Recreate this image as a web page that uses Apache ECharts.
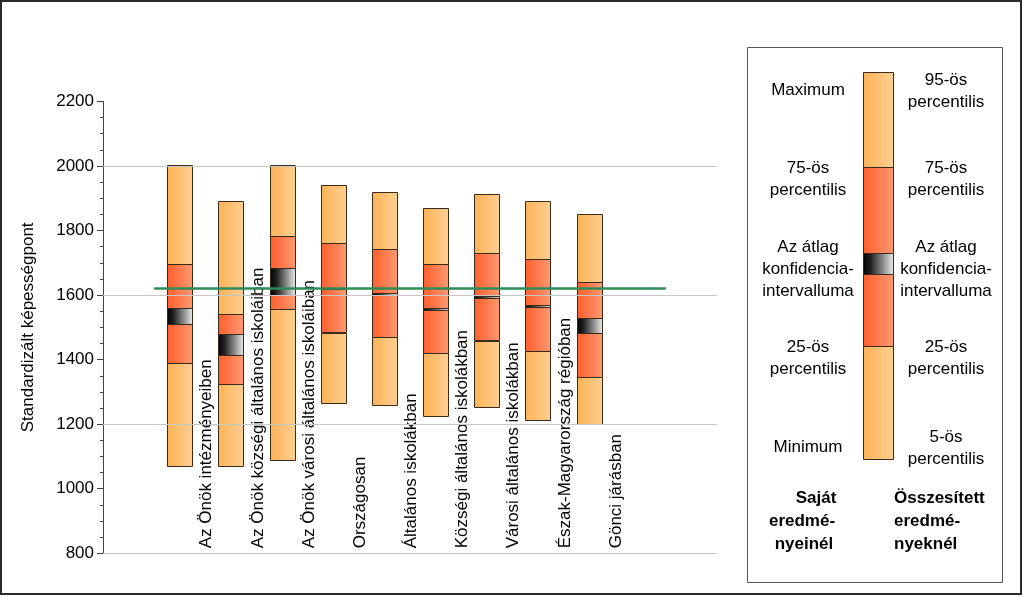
<!DOCTYPE html>
<html>
<head>
<meta charset="utf-8">
<script src="https://cdn.jsdelivr.net/npm/echarts@6/dist/echarts.min.js"></script>
<style>html,body{margin:0;padding:0;background:#fff}#chart{width:1024px;height:597px}</style>
</head>
<body>
<div id="chart"></div>
<script>
// ---- data ----
const categories = [
  "Az Önök intézményeiben",
  "Az Önök községi általános iskoláiban",
  "Az Önök városi általános iskoláiban",
  "Országosan",
  "Általános iskolákban",
  "Községi általános iskolákban",
  "Városi általános iskolákban",
  "Észak-Magyarország régióban",
  "Gönci járásban"
];
const minVals  = [1070, 1070, 1089, 1268, 1260, 1227, 1256, 1212, 1199];
const p25Vals  = [1390, 1325, 1557, 1484, 1470, 1421, 1459, 1426, 1346];
const ciLow    = [1510, 1415, 1601, 1618, 1601, 1555, 1591, 1563, 1484];
const ciHigh   = [1560, 1479, 1684, 1622, 1607, 1561, 1597, 1569, 1529];
const p75Vals  = [1697, 1541, 1783, 1761, 1742, 1696, 1730, 1711, 1640];
const maxVals  = [2003, 1892, 2003, 1940, 1920, 1871, 1912, 1892, 1852];
const nationalAvg = 1620;
const yTicks = [800, 1000, 1200, 1400, 1600, 1800, 2000, 2200];
const gridValues = [800, 1200, 1600, 2000];

const FONT = "'Liberation Sans', Arial, sans-serif";
const G = echarts.graphic;
const orangeGrad = () => new G.LinearGradient(0, 0, 1, 0, [{offset:0,color:'#fdb257'},{offset:1,color:'#ffd092'}]);
const redGrad = () => new G.LinearGradient(0, 0, 1, 0, [{offset:0,color:'#ff5e2c'},{offset:1,color:'#ff9a72'}]);
const ciGrad = () => new G.LinearGradient(0, 0, 1, 0, [{offset:0,color:'#000000'},{offset:0.25,color:'#222222'},{offset:1,color:'#eeeeee'}]);
const EDGE = '#3a2a1a';

const barData = categories.map((c, i) => [i + 1.5, minVals[i], p25Vals[i], ciLow[i], ciHigh[i], p75Vals[i], maxVals[i]]);
const labelData = categories.map((c, i) => [i + 1.5, yTicks[0]]);

const chart = echarts.init(document.getElementById('chart'));

// legend graphic
const LX = 863, LW = 30;
const legendSegs = [[72,167,'o'],[167,253,'r'],[253,274,'c'],[274,346,'r'],[346,459,'o']];
const graphics = [
  {type:'rect', shape:{x:1, y:1, width:1020, height:593}, style:{fill:null, stroke:'#2a2a2a', lineWidth:2}, silent:true},
  {type:'rect', shape:{x:747.5, y:47.5, width:255, height:535}, style:{fill:null, stroke:'#555', lineWidth:1}, silent:true}
];
legendSegs.forEach(s => {
  graphics.push({type:'rect', shape:{x:LX+0.5, y:s[0]+0.5, width:LW, height:s[1]-s[0]},
    style:{fill: s[2]==='o'?orangeGrad():(s[2]==='r'?redGrad():ciGrad()), stroke:EDGE, lineWidth:1}, silent:true});
});
function ltxt(t, x, y, bold, align) {
  graphics.push({type:'text', x:x, y:y, silent:true,
    style:{text:t, font:(bold?'bold ':'')+'17px '+FONT, fill:'#000', align:align||'center', verticalAlign:'middle'}});
}
const LC = 808, RC = 946;
ltxt('Maximum', LC, 90);
ltxt('75-ös', LC, 168); ltxt('percentilis', LC, 190);
ltxt('Az átlag', LC, 247); ltxt('konfidencia-', LC, 269); ltxt('intervalluma', LC, 291);
ltxt('25-ös', LC, 347); ltxt('percentilis', LC, 369);
ltxt('Minimum', LC, 447);
ltxt('Saját', LC+8, 498, true); ltxt('eredmé-', LC-6, 521, true); ltxt('nyeinél', LC-4, 544, true);
ltxt('95-ös', RC, 80); ltxt('percentilis', RC, 102);
ltxt('75-ös', RC, 168); ltxt('percentilis', RC, 190);
ltxt('Az átlag', RC, 247); ltxt('konfidencia-', RC, 269); ltxt('intervalluma', RC, 291);
ltxt('25-ös', RC, 347); ltxt('percentilis', RC, 369);
ltxt('5-ös', RC, 437); ltxt('percentilis', RC, 459);
ltxt('Összesített', 894, 498, true, 'left'); ltxt('eredmé-', 894, 521, true, 'left'); ltxt('nyeknél', 894, 544, true, 'left');

chart.setOption({
  animation: false,
  backgroundColor: '#fff',
  grid: {left: 103, right: 1024 - 717, top: 101.4, bottom: 597 - 553.3, containLabel: false},
  xAxis: {type: 'value', min: 0, max: 12, show: false},
  yAxis: {
    type: 'value', min: 800, max: 2200, interval: 200,
    name: 'Standardizált képességpont', nameLocation: 'middle', nameGap: 66,
    nameTextStyle: {fontSize: 17, fontFamily: FONT, color: '#000'},
    axisLine: {show: true, lineStyle: {color: '#444', width: 1}},
    axisTick: {show: true, length: 6, lineStyle: {color: '#444'}},
    minorTick: {show: true, splitNumber: 4, length: 3, lineStyle: {color: '#444'}},
    splitLine: {show: false},
    axisLabel: {fontSize: 17, fontFamily: FONT, color: '#000', margin: 9, formatter: v => String(v)}
  },
  graphic: graphics,
  series: [
    {
      type: 'custom', z: 1, silent: true,
      data: labelData,
      renderItem: function (params, api) {
        const p = api.coord([api.value(0), api.value(1)]);
        return {type: 'text', x: p[0] + 27, y: p[1] - 5, rotation: Math.PI / 2,
          style: {text: categories[params.dataIndex], font: '17px ' + FONT, fill: '#000', align: 'left', verticalAlign: 'middle'}};
      },
      markLine: {
        silent: true, symbol: 'none', label: {show: false},
        lineStyle: {color: '#c8c8c8', width: 1, type: 'solid'},
        data: gridValues.map(v => ({yAxis: v}))
      }
    },
    {
      type: 'custom', z: 2, silent: true,
      data: barData,
      renderItem: function (params, api) {
        const x = api.value(0);
        const bw = api.size([1, 0])[0] * 0.49;
        function rect(lo, hi, fill) {
          const a = api.coord([x, hi]), b = api.coord([x, lo]);
          return {type: 'rect', shape: {x: Math.round(a[0] - bw / 2) + 0.5, y: Math.round(a[1]) + 0.5, width: Math.round(bw), height: Math.max(1, Math.round(b[1] - a[1]))},
            style: {fill: fill, stroke: EDGE, lineWidth: 1}};
        }
        return {type: 'group', children: [
          rect(api.value(1), api.value(2), orangeGrad()),
          rect(api.value(2), api.value(5), redGrad()),
          rect(api.value(5), api.value(6), orangeGrad()),
          rect(api.value(3), api.value(4), ciGrad())
        ]};
      }
    },
    {
      type: 'line', z: 5, silent: true, symbol: 'none',
      lineStyle: {color: '#2e8b57', width: 2.5},
      data: [[1, nationalAvg], {value: [11, nationalAvg], label: {show: true, position: 'top', distance: 5,
        formatter: 'Országos\nátlag', fontSize: 17, lineHeight: 21, fontFamily: FONT, color: '#000', align: 'center'}}]
    }
  ]
});
</script>
</body>
</html>
